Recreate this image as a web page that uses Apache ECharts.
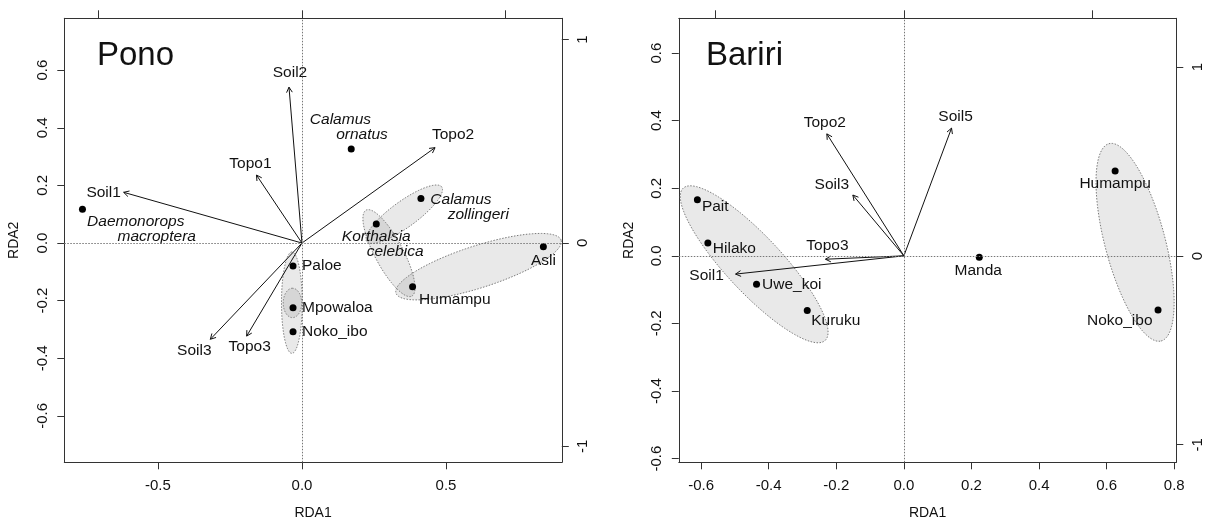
<!DOCTYPE html>
<html>
<head>
<meta charset="utf-8">
<script src="https://cdn.jsdelivr.net/npm/echarts@6/dist/echarts.min.js"></script>
<style>
html,body{margin:0;padding:0;background:#fff;}
#chart{width:1208px;height:521px;}
</style>
</head>
<body>
<div id="chart"></div>
<script>
// ---------------- DATA ----------------
// Pono panel
const ponoSites = ['Paloe', 'Mpowaloa', 'Noko_ibo', 'Humampu', 'Asli'];
const ponoSiteX = [-0.031, -0.031, -0.031, 0.384, 0.838];
const ponoSiteY = [-0.080, -0.225, -0.308, -0.152, -0.013];

const ponoSpecies = ['Calamus ornatus', 'Calamus zollingeri', 'Korthalsia celebica', 'Daemonorops macroptera'];
const ponoSpeciesX = [0.171, 0.413, 0.258, -0.762];
const ponoSpeciesY = [0.326, 0.155, 0.066, 0.117];

const ponoVars = ['Soil1', 'Soil2', 'Soil3', 'Topo1', 'Topo2', 'Topo3'];
const ponoVarX = [-0.619, -0.045, -0.318, -0.158, 0.462, -0.192];
const ponoVarY = [0.176, 0.541, -0.334, 0.236, 0.331, -0.323];

// ellipses: centre x, centre y, semi-major, semi-minor, angle (deg)
const ponoEllCx = [0.355, 0.302, 0.613, -0.035, -0.033];
const ponoEllCy = [0.100, -0.035, -0.082, -0.207, -0.208];
const ponoEllA = [0.161, 0.169, 0.301, 0.176, 0.051];
const ponoEllB = [0.045, 0.049, 0.073, 0.036, 0.032];
const ponoEllAng = [36, -62, 17.8, 90, 90];

// Bariri panel
const bariSites = ['Pait', 'Hilako', 'Uwe_koi', 'Kuruku', 'Manda', 'Humampu', 'Noko_ibo'];
const bariSiteX = [-0.611, -0.580, -0.436, -0.286, 0.223, 0.625, 0.752];
const bariSiteY = [0.166, 0.038, -0.084, -0.162, -0.004, 0.251, -0.160];

const bariVars = ['Topo2', 'Soil5', 'Soil3', 'Topo3', 'Soil1'];
const bariVarX = [-0.228, 0.141, -0.151, -0.232, -0.498];
const bariVarY = [0.361, 0.378, 0.180, -0.010, -0.054];

const bariEllCx = [-0.443, 0.684];
const bariEllCy = [-0.025, 0.040];
const bariEllA = [0.308, 0.302];
const bariEllB = [0.083, 0.089];
const bariEllAng = [-47, -75.2];

// tick labels
const ponoXTicks = [-0.5, 0, 0.5];
const ponoYTicks = [-0.6, -0.4, -0.2, 0, 0.2, 0.4, 0.6];
const bariXTicks = [-0.6, -0.4, -0.2, 0, 0.2, 0.4, 0.6, 0.8];
const bariYTicks = [-0.6, -0.4, -0.2, 0, 0.2, 0.4, 0.6];
const secondaryTicks = [-1, 0, 1];

// ---------------- STYLE ----------------
const FONT = "'Liberation Sans', Arial, Helvetica, sans-serif";
const TXT = '#111';
const LINE = '#333';
const LBL = 15.5;

// arrow label offsets (px, label centre relative to arrow tip)
const ponoArrowLabelOff = {
  Soil1: [-20, 0], Soil2: [1, -14], Soil3: [-16, 11],
  Topo1: [-6, -11], Topo2: [18, -13], Topo3: [3, 11]
};
const bariArrowLabelOff = {
  Topo2: [-2, -11], Soil5: [4, -11], Soil3: [-21, -10],
  Topo3: [2, -14], Soil1: [-29, 2]
};
// site label placement
const ponoSiteLbl = {
  Paloe: {position: 'right', distance: 5.5},
  Mpowaloa: {position: 'right', distance: 5.5},
  Noko_ibo: {position: 'right', distance: 5.5},
  Humampu: {position: 'right', distance: 3, offset: [0, 12.5]},
  Asli: {position: 'bottom', distance: 2}
};
const bariSiteLbl = {
  Pait: {position: 'right', distance: 1, offset: [0, 6.5]},
  Hilako: {position: 'right', distance: 1.5, offset: [0, 6]},
  Uwe_koi: {position: 'right', distance: 2},
  Kuruku: {position: 'right', distance: 0.5, offset: [0, 10]},
  Manda: {position: 'bottom', distance: 2, offset: [-1, 0]},
  Humampu: {position: 'bottom', distance: 1},
  Noko_ibo: {position: 'left', distance: 2, offset: [0, 11]}
};
// species label block centre offset and line shift
const speciesLbl = {
  'Calamus ornatus': {offset: [0, -21.5], shift: 10.8},
  'Calamus zollingeri': {offset: [48.7, 8.7], shift: 8.7},
  'Korthalsia celebica': {offset: [9.4, 20.2], shift: 9.4},
  'Daemonorops macroptera': {offset: [63.8, 20], shift: 10.5}
};

// ---------------- BUILD ----------------
function fmt1(v) { return (Math.abs(v) < 1e-9 ? 0 : v).toFixed(1); }

function ellipseSeries(p, cx, cy, a, b, ang) {
  return {
    type: 'custom', xAxisIndex: p * 2, yAxisIndex: p * 2, z: 1, silent: true, clip: true,
    data: cx.map((v, i) => [v, cy[i], a[i], b[i], ang[i]]),
    renderItem: function (params, api) {
      const x0 = api.value(0), y0 = api.value(1), A = api.value(2), B = api.value(3);
      const t0 = api.value(4) * Math.PI / 180;
      const pts = [];
      for (let k = 0; k < 160; k++) {
        const t = k / 160 * Math.PI * 2;
        const dx = A * Math.cos(t) * Math.cos(t0) - B * Math.sin(t) * Math.sin(t0);
        const dy = A * Math.cos(t) * Math.sin(t0) + B * Math.sin(t) * Math.cos(t0);
        pts.push(api.coord([x0 + dx, y0 + dy]));
      }
      return {
        type: 'polygon', shape: {points: pts},
        style: {fill: 'rgba(110,110,110,0.15)', stroke: '#7a7a7a', lineWidth: 1, lineDash: [1.5, 1.5]}
      };
    }
  };
}

function arrowSeries(p, names, xs, ys, offs) {
  return {
    type: 'custom', xAxisIndex: p * 2, yAxisIndex: p * 2, z: 3, silent: true,
    data: xs.map((v, i) => ({name: names[i], value: [v, ys[i]]})),
    renderItem: function (params, api) {
      const o = api.coord([0, 0]);
      const e = api.coord([api.value(0), api.value(1)]);
      const ang = Math.atan2(e[1] - o[1], e[0] - o[0]);
      const L = 6, s = 0.5;
      const h1 = [e[0] - L * Math.cos(ang - s), e[1] - L * Math.sin(ang - s)];
      const h2 = [e[0] - L * Math.cos(ang + s), e[1] - L * Math.sin(ang + s)];
      const nm = names[params.dataIndex];
      const off = offs[nm] || [0, 0];
      return {
        type: 'group',
        children: [
          {type: 'line', shape: {x1: o[0], y1: o[1], x2: e[0], y2: e[1]}, style: {stroke: '#111', lineWidth: 1}},
          {type: 'polyline', shape: {points: [h1, e, h2]}, style: {stroke: '#111', lineWidth: 1, fill: null}},
          {type: 'text', x: e[0] + off[0], y: e[1] + off[1],
            style: {text: nm, fill: TXT, fontSize: LBL, fontFamily: FONT, align: 'center', verticalAlign: 'middle'}}
        ]
      };
    }
  };
}

function siteSeries(p, names, xs, ys, lblCfg, withZero) {
  const s = {
    type: 'scatter', xAxisIndex: p * 2, yAxisIndex: p * 2, z: 4, silent: true,
    symbol: 'circle', symbolSize: 7, itemStyle: {color: '#000', opacity: 1},
    label: {show: true, formatter: '{b}', color: TXT, fontSize: LBL, fontFamily: FONT, opacity: 1},
    data: names.map((n, i) => ({name: n, value: [xs[i], ys[i]], label: lblCfg[n] || {}}))
  };
  if (withZero) {
    s.markLine = {
      silent: true, symbol: ['none', 'none'], animation: false,
      label: {show: false},
      lineStyle: {type: [1.5, 1.5], color: '#777', width: 1},
      data: [{xAxis: 0}, {yAxis: 0}]
    };
  }
  return s;
}

function speciesSeries(p, names, xs, ys) {
  return {
    type: 'scatter', xAxisIndex: p * 2, yAxisIndex: p * 2, z: 4, silent: true,
    symbol: 'circle', symbolSize: 7, itemStyle: {color: '#000', opacity: 1},
    data: names.map((n, i) => {
      const c = speciesLbl[n];
      const parts = n.split(' ');
      const sh = c.shift * 2;
      return {
        name: n, value: [xs[i], ys[i]],
        label: {
          show: true, position: 'inside', offset: c.offset, align: 'center', verticalAlign: 'middle', opacity: 1,
          formatter: '{a|' + parts[0] + '}\n{b|' + parts[1] + '}',
          rich: {
            a: {fontSize: LBL, fontStyle: 'italic', fontFamily: FONT, color: TXT, lineHeight: 15, align: 'center', padding: [0, sh, 0, 0]},
            b: {fontSize: LBL, fontStyle: 'italic', fontFamily: FONT, color: TXT, lineHeight: 15, align: 'center', padding: [0, 0, 0, sh]}
          }
        }
      };
    })
  };
}

function axisBase(extra) {
  return Object.assign({
    type: 'value', scale: false,
    axisLine: {show: true, onZero: false, lineStyle: {color: LINE, width: 1}},
    splitLine: {show: false},
    nameTextStyle: {fontSize: 14, color: TXT, fontFamily: FONT}
  }, extra);
}

function primaryX(grid, min, max, ticks) {
  return axisBase({
    gridIndex: grid, position: 'bottom', min: min, max: max,
    name: 'RDA1', nameLocation: 'middle', nameGap: 44,
    axisTick: {show: true, length: 7, lineStyle: {color: LINE}, customValues: ticks},
    axisLabel: {customValues: ticks, formatter: fmt1, fontSize: 15, color: TXT, fontFamily: FONT, margin: 16}
  });
}
function primaryY(grid, min, max, ticks) {
  return axisBase({
    gridIndex: grid, position: 'left', min: min, max: max,
    name: 'RDA2', nameLocation: 'middle', nameGap: 43,
    axisTick: {show: true, length: 7, lineStyle: {color: LINE}, customValues: ticks},
    axisLabel: {customValues: ticks, formatter: fmt1, rotate: 90, fontSize: 15, color: TXT, fontFamily: FONT, margin: 14}
  });
}
function secondaryX(grid, min, max) {
  return axisBase({
    gridIndex: grid, position: 'top', min: min, max: max,
    axisTick: {show: true, length: 8, lineStyle: {color: LINE}, customValues: secondaryTicks},
    axisLabel: {show: false, customValues: secondaryTicks}
  });
}
function secondaryY(grid, min, max) {
  return axisBase({
    gridIndex: grid, position: 'right', min: min, max: max,
    axisTick: {show: true, length: 7, lineStyle: {color: LINE}, customValues: secondaryTicks},
    axisLabel: {customValues: secondaryTicks, formatter: v => String(Math.round(v)), rotate: 90, fontSize: 15, color: TXT, fontFamily: FONT, margin: 14}
  });
}

const option = {
  backgroundColor: '#ffffff',
  animation: false,
  textStyle: {fontFamily: FONT},
  title: [
    {text: 'Pono', left: 97, top: 39, padding: 0, textStyle: {fontSize: 33, fontWeight: 'normal', color: TXT, fontFamily: FONT}},
    {text: 'Bariri', left: 706, top: 39, padding: 0, textStyle: {fontSize: 33, fontWeight: 'normal', color: TXT, fontFamily: FONT}}
  ],
  grid: [
    {left: 64.3, top: 18.3, width: 497.5, height: 444, containLabel: false, outerBoundsMode: 'none'},
    {left: 678.8, top: 18.3, width: 497.5, height: 444, containLabel: false, outerBoundsMode: 'none'}
  ],
  xAxis: [
    primaryX(0, -0.825, 0.902, ponoXTicks),
    secondaryX(0, -1.168, 1.277),
    primaryX(1, -0.666, 0.806, bariXTicks),
    secondaryX(1, -1.192, 1.443)
  ],
  yAxis: [
    primaryY(0, -0.761, 0.780, ponoYTicks),
    secondaryY(0, -1.078, 1.104),
    primaryY(1, -0.611, 0.703, bariYTicks),
    secondaryY(1, -1.093, 1.259)
  ],
  series: [
    ellipseSeries(0, ponoEllCx, ponoEllCy, ponoEllA, ponoEllB, ponoEllAng),
    siteSeries(0, ponoSites, ponoSiteX, ponoSiteY, ponoSiteLbl, true),
    arrowSeries(0, ponoVars, ponoVarX, ponoVarY, ponoArrowLabelOff),
    speciesSeries(0, ponoSpecies, ponoSpeciesX, ponoSpeciesY),
    ellipseSeries(1, bariEllCx, bariEllCy, bariEllA, bariEllB, bariEllAng),
    siteSeries(1, bariSites, bariSiteX, bariSiteY, bariSiteLbl, true),
    arrowSeries(1, bariVars, bariVarX, bariVarY, bariArrowLabelOff)
  ]
};

const chart = echarts.init(document.getElementById('chart'), null, {renderer: 'canvas'});
chart.setOption(option);
</script>
</body>
</html>
